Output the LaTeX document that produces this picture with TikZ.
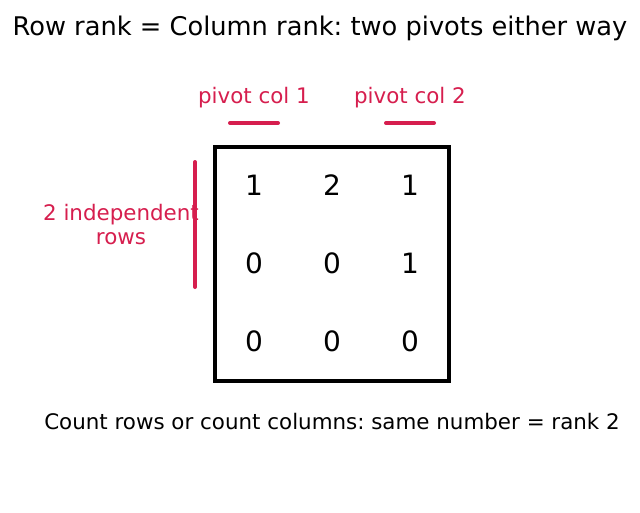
\documentclass[tikz,border=0pt]{standalone}
\usepackage{fontspec}
\setmainfont{DejaVu Sans}
\frenchspacing
\definecolor{accent}{RGB}{214,30,78}
\begin{document}
\begin{tikzpicture}[x=1pt,y=-1pt,
  every node/.style={inner sep=0pt,outer sep=0pt},
  title/.style={font=\fontsize{25.7}{30}\selectfont},
  entry/.style={font=\fontsize{28}{32}\selectfont},
  lbl/.style={font=\fontsize{21.4}{24}\selectfont,text=accent,align=center},
  note/.style={font=\fontsize{21.4}{24}\selectfont},
  mark line/.style={draw=accent,line width=4,line cap=round}]
\useasboundingbox (0,0) rectangle (640,512);
\node[title] (t) at (320,28) {Row rank = Column rank: two pivots either way};
\node[draw,line width=4,minimum width=234,minimum height=234] (box) at (332,264) {};
\node[entry] (a11) at (254,185) {1};
\node[entry] (a12) at (332,185) {2};
\node[entry] (a13) at (410,185) {1};
\node[entry] (a21) at (254,263) {0};
\node[entry] (a22) at (332,263) {0};
\node[entry] (a23) at (410,263) {1};
\node[entry] (a31) at (254,341) {0};
\node[entry] (a32) at (332,341) {0};
\node[entry] (a33) at (410,341) {0};
\node[lbl] (p1) at (254,98) {pivot col 1};
\node[lbl] (p2) at (410,98) {pivot col 2};
\coordinate (p1a) at (230,123); \coordinate (p1b) at (278,123);
\coordinate (p2a) at (386,123); \coordinate (p2b) at (434,123);
\draw[mark line] (p1a) -- (p1b);
\draw[mark line] (p2a) -- (p2b);
\coordinate (ra) at (195,162); \coordinate (rb) at (195,287);
\draw[mark line] (ra) -- (rb);
\node[lbl] (rl) at (121,225) {2 independent\\rows};
\node[note] (n) at (332,422) {Count rows or count columns: same number = rank 2};
\end{tikzpicture}
\end{document}
